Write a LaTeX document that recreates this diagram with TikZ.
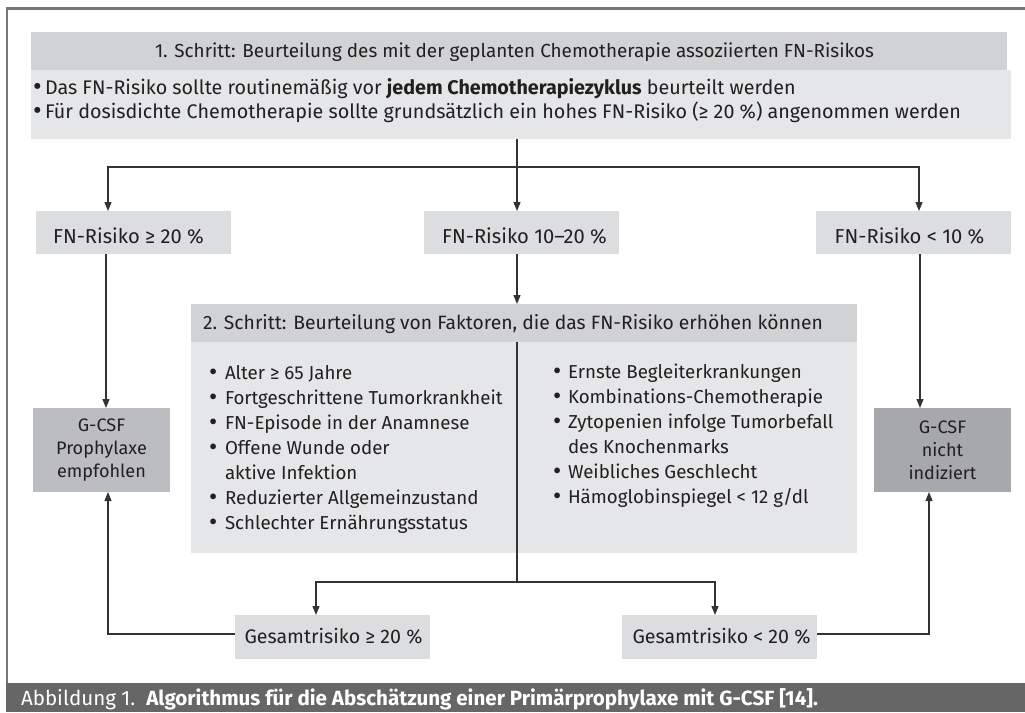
\documentclass[tikz,border=0pt]{standalone}
\usepackage{fontspec}
\setmainfont{Fira Sans}
\usetikzlibrary{arrows.meta}
\definecolor{hdr}{HTML}{D1D2D4}
\definecolor{bodyc}{HTML}{E5E6E8}
\definecolor{smallc}{HTML}{DCDDDF}
\definecolor{gcl}{HTML}{BCBDC0}
\definecolor{gcr}{HTML}{A6A8AB}
\definecolor{framec}{HTML}{777777}
\definecolor{capc}{HTML}{666666}
\definecolor{txt}{HTML}{231F20}
\definecolor{linec}{HTML}{333333}
% compute a font size so that sample text #3 is #2 pt wide
\newlength\fitlen
\newcommand\fitsize[3]{%
  \settowidth\fitlen{\fontsize{10pt}{12pt}\selectfont #3}%
  \pgfmathsetmacro#1{10*#2/\fitlen}}
\newcommand\bulx[1]{\makebox[#1][l]{\smash{\raisebox{-0.06em}{\scalebox{1.35}{\textbullet}}}}}
\begin{document}
\fitsize\szH{719}{1. Schritt: Beurteilung des mit der geplanten Chemotherapie assoziierten FN-Risikos}%
\fitsize\szB{916}{Für dosisdichte Chemotherapie sollte grundsätzlich ein hohes FN-Risiko (≥ 20 \%) angenommen werden}%
\fitsize\szF{465}{FN-Risiko ≥ 20 \%FN-Risiko 10–20 \%FN-Risiko < 10 \%}%
\fitsize\szS{620}{2. Schritt: Beurteilung von Faktoren, die das FN-Risiko erhöhen können}%
\fitsize\szL{543}{Fortgeschrittene TumorkrankheitZytopenien infolge Tumorbefall}%
\fitsize\szG{206}{ProphylaxeindiziertG-CSF}%
\fitsize\szT{356}{Gesamtrisiko ≥ 20 \%Gesamtrisiko < 20 \%}%
\fitsize\szC{797}{Abbildung 1.\ \ \textbf{Algorithmus für die Abschätzung einer Primärprophylaxe mit G-CSF [14].}}%
\begin{tikzpicture}[x=1pt,y=-1pt,
  every node/.style={text=txt, inner sep=0pt, outer sep=0pt},
  fillbox/.style={fill=#1, draw=none, anchor=north west},
  conn/.style={draw=linec, line width=1.3pt},
  arr/.style={conn, -{Triangle[length=9pt,width=7pt]}},
  tight/.style={text height=0.72em, text depth=0.2em},
  fh/.style={font=\fontsize{\szH pt}{22pt}\selectfont},
  fb/.style={font=\fontsize{\szB pt}{22pt}\selectfont, tight},
  ff/.style={font=\fontsize{\szF pt}{22pt}\selectfont},
  fs/.style={font=\fontsize{\szS pt}{22pt}\selectfont},
  fl/.style={font=\fontsize{\szL pt}{25pt}\selectfont, tight},
  fg/.style={font=\fontsize{\szG pt}{23pt}\selectfont},
  ft/.style={font=\fontsize{\szT pt}{22pt}\selectfont},
  fc/.style={font=\fontsize{\szC pt}{22pt}\selectfont}]
\useasboundingbox (0,0) rectangle (1025,712);
\fill[white] (0,0) rectangle (1025,712);
% frame
\draw[framec, line width=2.6pt] (7,683) -- (7,8.7) -- (1025,8.7);
% caption
\node[fill=capc, minimum width=1019pt, minimum height=29pt, anchor=north west] (cap) at (6,683) {};
\node[anchor=base west, text=white, fc] (capt) at (21,705) {Abbildung 1.\ \ \textbf{Algorithmus für die Abschätzung einer Primärprophylaxe mit G-CSF [14].}};
% step 1
\node[fillbox=hdr, minimum width=976pt, minimum height=38pt] (h1) at (31,32) {};
\node[fh, anchor=base] (h1t) at (514.5,57) {1. Schritt: Beurteilung des mit der geplanten Chemotherapie assoziierten FN-Risikos};
\node[fillbox=bodyc, minimum width=980pt, minimum height=69pt] (b1) at (31,70) {};
\node[fb, anchor=base west] (b1a) at (33,94) {\bulx{12pt}Das FN-Risiko sollte routinemäßig vor \textbf{jedem Chemotherapiezyklus} beurteilt werden};
\node[fb, anchor=base west] (b1b) at (33,118) {\bulx{12pt}Für dosisdichte Chemotherapie sollte grundsätzlich ein hohes FN-Risiko (≥ 20 \%) angenommen werden};
% FN boxes
\node[fillbox=smallc, minimum width=195pt, minimum height=43pt] (fnl) at (36,211) {};
\node[ff, anchor=base] (fnlt) at (128.5,243) {FN-Risiko ≥ 20 \%};
\node[fillbox=smallc, minimum width=195pt, minimum height=43pt] (fnm) at (424,211) {};
\node[ff, anchor=base] (fnmt) at (524.5,243) {FN-Risiko 10–20 \%};
\node[fillbox=smallc, minimum width=195pt, minimum height=43pt] (fnr) at (816,211) {};
\node[ff, anchor=base] (fnrt) at (909.5,243) {FN-Risiko < 10 \%};
% G-CSF boxes
\node[fillbox=gcl, minimum width=137pt, minimum height=84pt] (gl) at (33,408) {};
\node[fg, align=center] (glt) at (gl.center) {G-CSF\\Prophylaxe\\empfohlen};
\node[fillbox=gcr, minimum width=137pt, minimum height=84pt] (gr) at (874,408) {};
\node[fg, align=center] (grt) at (gr.center) {G-CSF\\nicht\\indiziert};
% step 2
\node[fillbox=hdr, minimum width=666pt, minimum height=38pt] (s2h) at (191,304) {};
\node[fs, anchor=base] (s2ht) at (513,329) {2. Schritt: Beurteilung von Faktoren, die das FN-Risiko erhöhen können};
\node[fillbox=bodyc, minimum width=666pt, minimum height=211pt] (s2b) at (191,342) {};
\node[fl, anchor=base west] (l1) at (209,379) {\bulx{16pt}Alter ≥ 65 Jahre};
\node[fl, anchor=base west] (l2) at (209,404) {\bulx{16pt}Fortgeschrittene Tumorkrankheit};
\node[fl, anchor=base west] (l3) at (209,429) {\bulx{16pt}FN-Episode in der Anamnese};
\node[fl, anchor=base west] (l4) at (209,454) {\bulx{16pt}Offene Wunde oder};
\node[fl, anchor=base west] (l5) at (225,479) {aktive Infektion};
\node[fl, anchor=base west] (l6) at (209,504) {\bulx{16pt}Reduzierter Allgemeinzustand};
\node[fl, anchor=base west] (l7) at (209,529) {\bulx{16pt}Schlechter Ernährungsstatus};
\node[fl, anchor=base west] (r1) at (553,378) {\bulx{15pt}Ernste Begleiterkrankungen};
\node[fl, anchor=base west] (r2) at (553,403) {\bulx{15pt}Kombinations-Chemotherapie};
\node[fl, anchor=base west] (r3) at (553,428) {\bulx{15pt}Zytopenien infolge Tumorbefall};
\node[fl, anchor=base west] (r4) at (568,453) {des Knochenmarks};
\node[fl, anchor=base west] (r5) at (553,478) {\bulx{15pt}Weibliches Geschlecht};
\node[fl, anchor=base west] (r6) at (553,503) {\bulx{15pt}Hämoglobinspiegel < 12 g/dl};
% Gesamtrisiko boxes
\node[fillbox=smallc, minimum width=195pt, minimum height=44pt] (g1) at (235,615) {};
\node[ft, anchor=base] (g1t) at (333.5,643.5) {Gesamtrisiko ≥ 20 \%};
\node[fillbox=smallc, minimum width=195pt, minimum height=44pt] (g2) at (622,615) {};
\node[ft, anchor=base] (g2t) at (721.5,643.5) {Gesamtrisiko < 20 \%};
% coordinates
\coordinate (jm) at (517,167);
\coordinate (jl) at (108,167);
\coordinate (jr) at (919,167);
\coordinate (al) at (106,0);
\coordinate (ar) at (920,0);
\coordinate (jm2) at (517,582);
\coordinate (a1) at (316,582);
\coordinate (a2) at (715,582);
\coordinate (ul) at (108,0);
\coordinate (ur) at (929,0);
% connectors
\draw[conn] (b1.south -| jm) -- (jm);
\draw[arr] (jm) -- (fnm.north -| jm);
\draw[arr] (jm) -| (fnl.north -| jl);
\draw[arr] (jm) -| (fnr.north -| jr);
\draw[arr] (fnl.south -| al) -- (gl.north -| al);
\draw[arr] (fnr.south -| ar) -- (gr.north -| ar);
\draw[arr] (fnm.south -| jm) -- (s2h.north -| jm);
\draw[conn] (s2h.south -| jm) -- (jm2);
\draw[arr] (jm2) -| (g1.north -| a1);
\draw[arr] (jm2) -| (g2.north -| a2);
\draw[arr] ([yshift=3pt]g1.west) -| (gl.south -| ul);
\draw[arr] ([yshift=3pt]g2.east) -| (gr.south -| ur);
\end{tikzpicture}
\end{document}
